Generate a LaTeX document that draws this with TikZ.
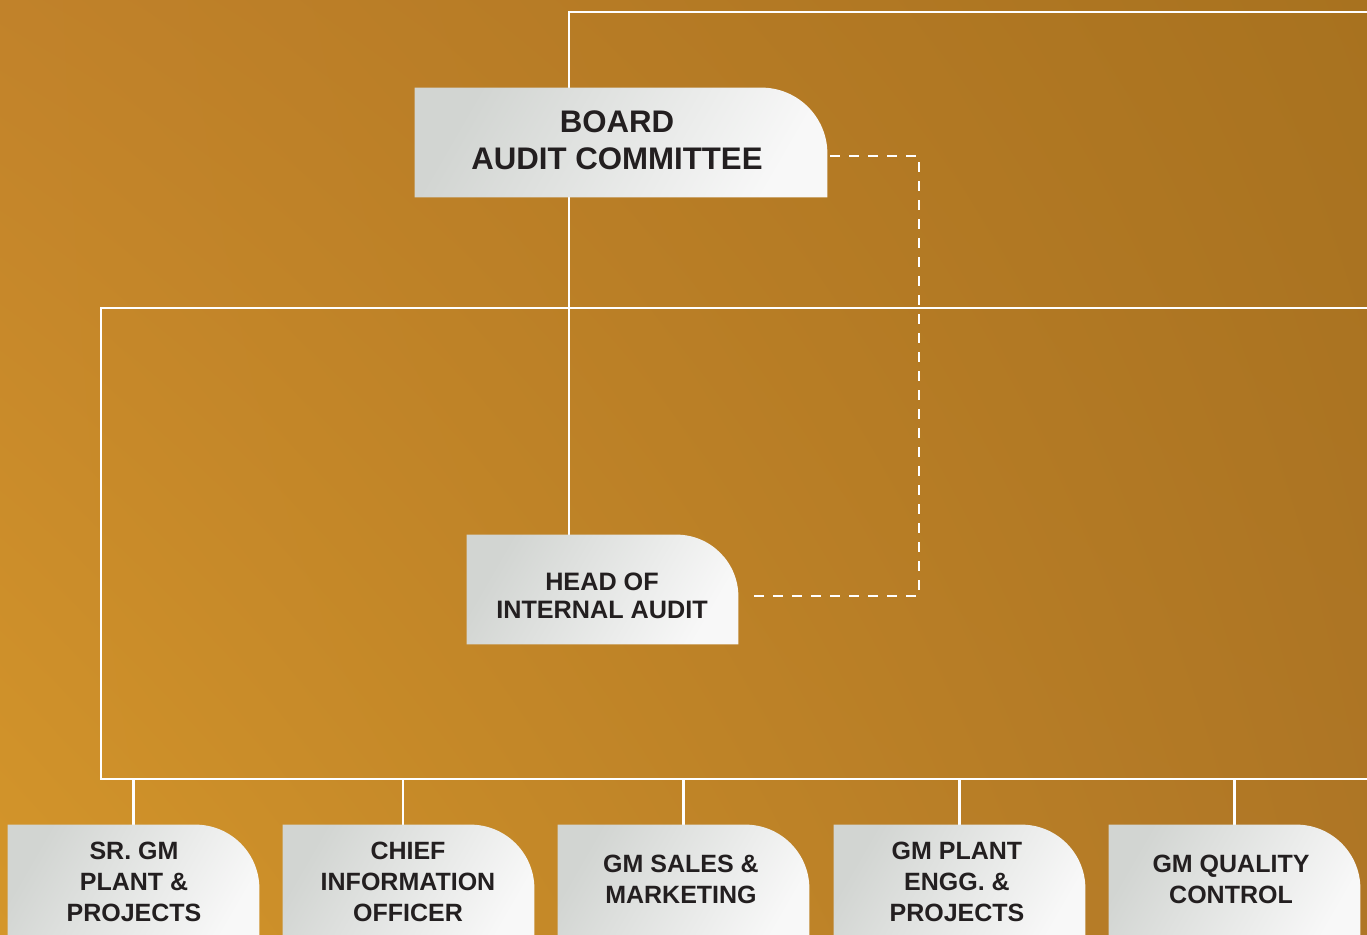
\documentclass[tikz,border=0pt]{standalone}
\usepackage{fontspec}
\setmainfont{Liberation Sans}
\usetikzlibrary{shadings}
\begin{document}
\begin{tikzpicture}[x=0.5pt,y=-0.5pt,
  conn/.style={draw=white,line width=1.3pt},
  dconn/.style={draw=white,line width=1.1pt,dash pattern=on 5pt off 4.5pt},
  boxlabel/.style={inner sep=0pt,outer sep=0pt,align=center,text=txtdark,font=\bfseries},
  boxshade/.style={top color=boxleft,bottom color=boxright,shading angle=60},
]
\definecolor{bgTL}{HTML}{C1822A}
\definecolor{bgTR}{HTML}{A8721F}
\definecolor{bgBL}{HTML}{D4962A}
\definecolor{bgBR}{HTML}{AF7626}
\definecolor{boxleft}{HTML}{D2D5D2}
\definecolor{boxright}{HTML}{F8F8F8}
\definecolor{txtdark}{HTML}{231F20}
\useasboundingbox (0,0) rectangle (1367,934);
\shade[upper left=bgTL,upper right=bgTR,lower left=bgBL,lower right=bgBR] (0,0) rectangle (1367,934);

% box shape macro: name, radius (pt)
\newcommand{\cornerbox}[2]{%
  \shade[boxshade] (#1.south west) -- (#1.north west) -- ([xshift=-#2]#1.north east)
    .. controls ([xshift=-0.4477*#2]#1.north east) and ([yshift=-0.4477*#2]#1.north east) ..
    ([yshift=-#2]#1.north east) -- (#1.south east) -- cycle;}

% box nodes (invisible frames)
\node[minimum width=206pt,minimum height=54.5pt,inner sep=0pt] (bac) at (621,142.5) {};
\node[minimum width=135.5pt,minimum height=54.5pt,inner sep=0pt] (hia) at (602.5,589.5) {};
\foreach \n/\cx in {b1/133.5,b2/408.5,b3/683.5,b4/959.5,b5/1234.5}{
  \node[minimum width=125.5pt,minimum height=60pt,inner sep=0pt] (\n) at (\cx,885) {};
}

% connectors
\coordinate (topR) at (1367,12);
\coordinate (topL) at (569,12);
\coordinate (midJ) at (569,308);
\coordinate (midL) at (101,308);
\coordinate (midR) at (1367,308);
\coordinate (lowL) at (101,779);
\coordinate (lowR) at (1367,779);
\coordinate (dashA) at (919,156);
\coordinate (dashB) at (919,596);

\draw[conn] (topR) -- (topL) -- (topL |- bac.north);
\draw[conn] (bac.south -| topL) -- (midJ) -- (hia.north -| midJ);
\draw[conn] (midR) -- (midL) -- (lowL) -- (lowR);
\foreach \n/\dx in {b1/0pt,b2/-2.75pt,b3/0pt,b4/0pt,b5/0pt}{
  \draw[conn] ([xshift=\dx]\n.north |- lowR) -- ([xshift=\dx]\n.north);
}
\draw[dconn] ([xshift=1.5pt]bac.east |- dashA) -- (dashA) -- (dashB) -- ([xshift=5pt]hia.east |- dashB);

% box shapes
\cornerbox{bac}{33pt}
\cornerbox{hia}{31pt}
\foreach \n in {b1,b2,b3,b4,b5}{\cornerbox{\n}{32pt}}

% labels
\node[boxlabel,font=\bfseries\fontsize{15.6pt}{18.5pt}\selectfont] (tbac) at (617,140) {BOARD\\AUDIT COMMITTEE};
\node[boxlabel,font=\bfseries\fontsize{12.6pt}{14pt}\selectfont] (thia) at (602,596) {HEAD OF\\INTERNAL AUDIT};
\node[boxlabel,font=\bfseries\fontsize{12.5pt}{15.5pt}\selectfont] (tb1) at (134,882) {SR. GM\\PLANT \&\\PROJECTS};
\node[boxlabel,font=\bfseries\fontsize{12.5pt}{15.5pt}\selectfont] (tb2) at (408,882) {CHIEF\\INFORMATION\\OFFICER};
\node[boxlabel,font=\bfseries\fontsize{12.5pt}{15.5pt}\selectfont] (tb3) at (681,879.5) {GM SALES \&\\MARKETING};
\node[boxlabel,font=\bfseries\fontsize{12.5pt}{15.5pt}\selectfont] (tb4) at (957,882) {GM PLANT\\ENGG. \&\\PROJECTS};
\node[boxlabel,font=\bfseries\fontsize{12.5pt}{15.5pt}\selectfont] (tb5) at (1231,879.5) {GM QUALITY\\CONTROL};
\end{tikzpicture}
\end{document}
